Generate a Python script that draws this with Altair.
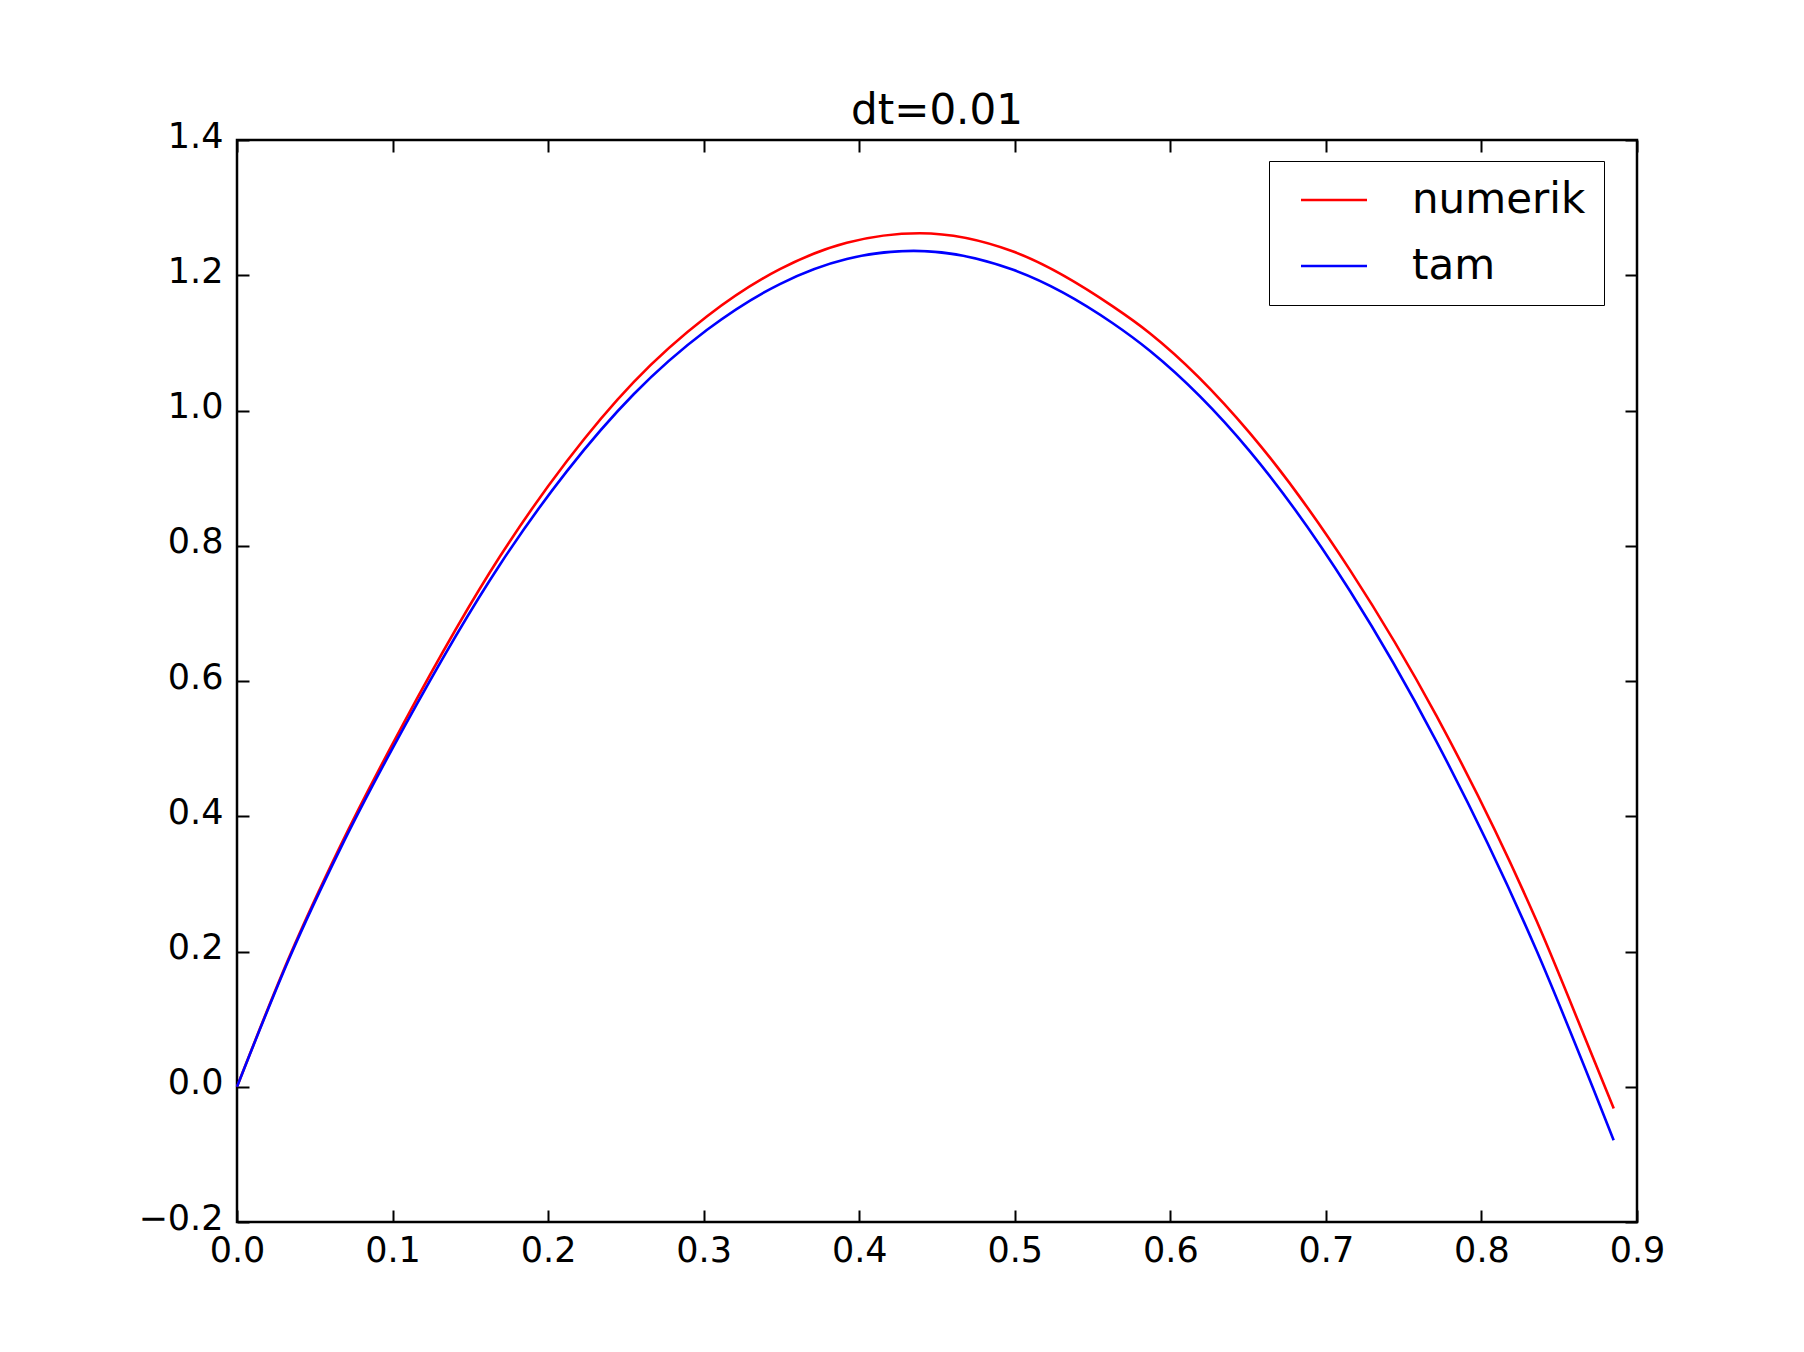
import altair as alt
import pandas as pd

# ---- data ----
series_names = ["numerik", "tam"]
series_colors = ["#ff0000", "#0000ff"]

t_numerik = [0.0, 0.034, 0.066, 0.107, 0.169, 0.212, 0.255, 0.302, 0.349, 0.392, 0.439,
             0.499, 0.563, 0.587, 0.651, 0.7155, 0.7712, 0.8355, 0.8719, 0.885]
v_numerik = [0.0, 0.194, 0.354, 0.537, 0.784, 0.925, 1.042, 1.139, 1.209, 1.248, 1.262,
             1.235, 1.154, 1.114, 0.967, 0.764, 0.548, 0.245, 0.042, -0.032]

t_tam = [0.0, 0.034, 0.066, 0.107, 0.169, 0.212, 0.255, 0.302, 0.349, 0.392, 0.435,
         0.499, 0.563, 0.587, 0.651, 0.7155, 0.7712, 0.8355, 0.8719, 0.885]
v_tam = [0.0, 0.192, 0.350, 0.530, 0.772, 0.910, 1.024, 1.119, 1.187, 1.224, 1.236,
         1.208, 1.129, 1.088, 0.940, 0.733, 0.510, 0.201, -0.003, -0.079]

x_ticks = [0.0, 0.1, 0.2, 0.3, 0.4, 0.5, 0.6, 0.7, 0.8, 0.9]
y_ticks = [-0.2, 0.0, 0.2, 0.4, 0.6, 0.8, 1.0, 1.2, 1.4]
title_text = "dt=0.01"

df = pd.concat([
    pd.DataFrame({"t": t_numerik, "v": v_numerik, "seri": series_names[0], "order": range(len(t_numerik))}),
    pd.DataFrame({"t": t_tam, "v": v_tam, "seri": series_names[1], "order": range(len(t_tam))}),
], ignore_index=True)

W, H = 1400, 1082
FONT = "DejaVu Sans"

xscale = alt.Scale(domain=[0.0, 0.9], nice=False, zero=False)
yscale = alt.Scale(domain=[-0.2, 1.4], nice=False, zero=False)

label_axis_common = dict(title=None, grid=False, domain=False, ticks=False, tickSize=0,
                         labelFontSize=35, labelFont=FONT, labelColor="black",
                         labelFlush=False, format=".1f")

tick_axis_common = dict(title=None, grid=False, domain=False, labels=False, ticks=True,
                        tickSize=12, tickWidth=2, tickColor="black")

lines = alt.Chart(df).mark_line(strokeWidth=2.6, interpolate="monotone").encode(
    x=alt.X("t:Q", scale=xscale,
            axis=alt.Axis(values=x_ticks, orient="bottom", labelPadding=11, **label_axis_common)),
    y=alt.Y("v:Q", scale=yscale,
            axis=alt.Axis(values=y_ticks, orient="left", labelPadding=14, labelOffset=-4,
                          **label_axis_common)),
    color=alt.Color("seri:N", scale=alt.Scale(domain=series_names, range=series_colors),
                    legend=alt.Legend(title=None, orient="none", legendX=1032, legendY=21,
                                      symbolType="M-2,0H2", symbolSize=1089, symbolStrokeWidth=2.5,
                                      symbolOffset=26,
                                      labelFontSize=42, labelFont=FONT, labelColor="black",
                                      labelOffset=57, labelLimit=600, rowPadding=24, padding=18,
                                      strokeColor="black", fillColor="white")),
    order="order:Q",
)

# inward ticks at bottom (left) edges
ticks_a = alt.Chart(df).mark_point(opacity=0).encode(
    x=alt.X("t:Q", scale=xscale,
            axis=alt.Axis(values=x_ticks, orient="top", offset=-H, **tick_axis_common)),
    y=alt.Y("v:Q", scale=yscale,
            axis=alt.Axis(values=y_ticks, orient="right", offset=-W, **tick_axis_common)),
)

# inward ticks at top (right) edges
ticks_b = alt.Chart(df).mark_point(opacity=0).encode(
    x=alt.X("t:Q", scale=xscale,
            axis=alt.Axis(values=x_ticks, orient="bottom", offset=-H, **tick_axis_common)),
    y=alt.Y("v:Q", scale=yscale,
            axis=alt.Axis(values=y_ticks, orient="left", offset=-W, **tick_axis_common)),
)

chart = alt.layer(lines, ticks_a, ticks_b).properties(
    width=W, height=H,
    title=alt.TitleParams(title_text, fontSize=42, font=FONT, fontWeight="normal",
                          color="black", anchor="middle", frame="group",
                          baseline="alphabetic", offset=-47),
    padding={"left": 229, "top": 132, "right": 150, "bottom": 100},
    autosize=alt.AutoSizeParams(type="none"),
    background="white",
).configure_view(stroke="black", strokeWidth=2.5)

chart.save("out.html", embed_options={"renderer": "svg", "actions": False})
